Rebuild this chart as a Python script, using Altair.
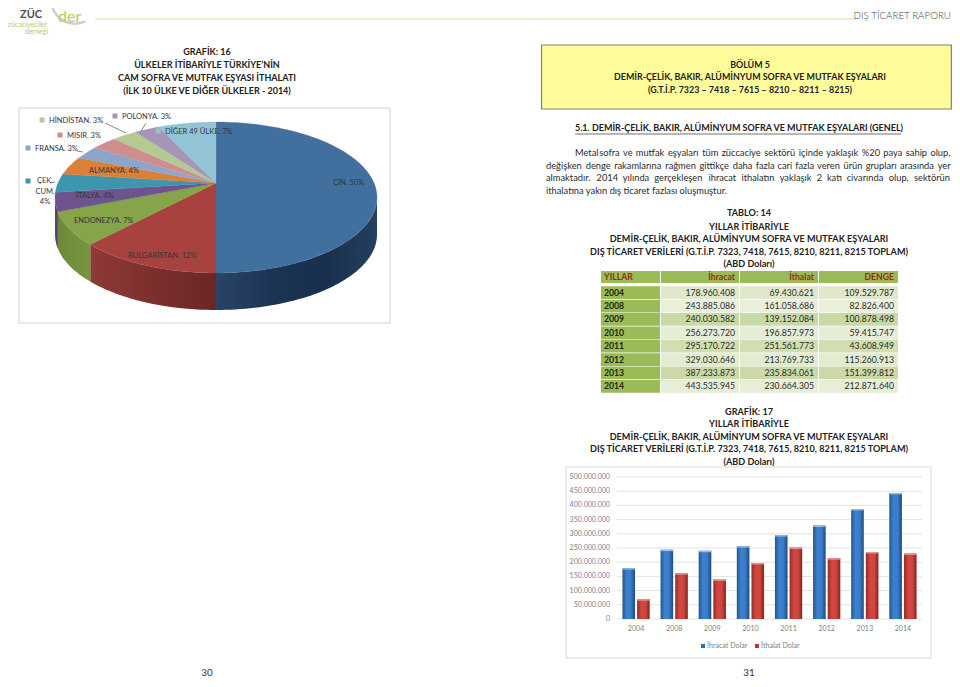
import math
import altair as alt
import pandas as pd

# ---------- data ----------
PIE_NAMES = ["ÇİN", "BULGARİSTAN", "ENDONEZYA", "İTALYA", "ÇEK CUM", "ALMANYA", "FRANSA", "MISIR", "HİNDİSTAN", "POLONYA", "DİĞER 49 ÜLKE"]
PIE_VALUES = [50, 12, 7, 4, 4, 4, 3, 3, 3, 3, 7]
PIE_COLORS = ["#41709f", "#a8423f", "#86a44a", "#6e548d", "#3d96ae", "#da8137", "#8ea5cb", "#ce8e8d", "#b5ca92", "#a596b8", "#93c4d6"]

YEARS = ["2004", "2008", "2009", "2010", "2011", "2012", "2013", "2014"]
IHRACAT = [178960408, 243885086, 240030582, 256273720, 295170722, 329030646, 387233873, 443535945]
ITHALAT = [69430621, 161058686, 139152084, 196857973, 251561773, 213769733, 235834061, 230664305]
DENGE = [109529787, 82826400, 100878498, 59415747, 43608949, 115260913, 151399812, 212871640]
TICKS = list(range(0, 500000001, 50000000))

TITLE_16 = ["GRAFİK: 16", "ÜLKELER İTİBARİYLE TÜRKİYE’NİN", "CAM SOFRA VE MUTFAK EŞYASI İTHALATI", "(İLK 10 ÜLKE VE DİĞER ÜLKELER - 2014)"]
BOX_TITLE = ["BÖLÜM 5", "DEMİR-ÇELİK, BAKIR, ALÜMİNYUM SOFRA VE MUTFAK EŞYALARI", "(G.T.İ.P. 7323 – 7418 – 7615 – 8210 – 8211 – 8215)"]
HEADING = "5.1. DEMİR-ÇELİK, BAKIR, ALÜMİNYUM SOFRA VE MUTFAK EŞYALARI (GENEL)"
PARAGRAPH = [
    "Metal sofra ve mutfak eşyaları tüm züccaciye sektörü içinde yaklaşık %20 paya sahip olup,",
    "değişken denge rakamlarına rağmen gittikçe daha fazla cari fazla veren ürün grupları arasında yer",
    "almaktadır. 2014 yılında gerçekleşen ihracat ithalatın yaklaşık 2 katı civarında olup, sektörün",
]
PARAGRAPH_LAST = "ithalatına yakın dış ticaret fazlası oluşmuştur."
TABLE_TITLE = ["TABLO: 14", "YILLAR İTİBARİYLE", "DEMİR-ÇELİK, BAKIR, ALÜMİNYUM SOFRA VE MUTFAK EŞYALARI",
               "DIŞ TİCARET VERİLERİ (G.T.İ.P. 7323, 7418, 7615, 8210, 8211, 8215 TOPLAM)", "(ABD Doları)"]
GRAPH_TITLE = ["GRAFİK: 17", "YILLAR İTİBARİYLE", "DEMİR-ÇELİK, BAKIR, ALÜMİNYUM SOFRA VE MUTFAK EŞYALARI",
               "DIŞ TİCARET VERİLERİ (G.T.İ.P. 7323, 7418, 7615, 8210, 8211, 8215 TOPLAM)", "(ABD Doları)"]

FONT = "Lato"
layers = []


def X(v):
    return alt.value(v - 8)


def text(s, x, y, size=9.5, align="left", color="#2b2b2b", weight="normal", font=FONT):
    layers.append(
        alt.Chart(alt.Data(values=[{"t": s}]))
        .mark_text(align=align, baseline="middle", fontSize=size, color=color, fontWeight=weight, font=font)
        .encode(text="t:N", x=X(x), y=X(y))
    )


def rect(x1, x2, y1, y2, fill, stroke=None, sw=1):
    kw = {"fill": fill}
    if stroke:
        kw.update(stroke=stroke, strokeWidth=sw)
    layers.append(alt.Chart(alt.Data(values=[{"a": 1}])).mark_rect(**kw).encode(x=X(x1), x2=X(x2), y=X(y1), y2=X(y2)))


def rule(x1, y1, x2, y2, color="#555555", sw=0.7):
    layers.append(alt.Chart(alt.Data(values=[{"a": 1}])).mark_rule(color=color, strokeWidth=sw).encode(x=X(x1), x2=X(x2), y=X(y1), y2=X(y2)))


CW = dict(a=.49, b=.56, c=.46, d=.56, e=.52, f=.32, g=.51, h=.55, i=.23, j=.23, k=.50, l=.23, m=.82, n=.55, o=.57,
          p=.55, q=.56, r=.36, s=.43, t=.35, u=.55, v=.50, w=.76, x=.49, y=.50, z=.45)
CW.update({"ı": .23, "ş": .43, "ü": .55, "ö": .57, "ç": .46, "ğ": .51, ",": .23, ".": .23, "%": .82})


def cw(c):
    if c in CW:
        return CW[c] * 1.04
    if c.isdigit():
        return 0.58 * 1.0
    return 0.65


def justified(line, x0, x1, y, size):
    words = line.split(" ")
    widths = [sum(cw(c) for c in w) * size for w in words]
    gap = (x1 - x0 - sum(widths)) / (len(words) - 1)
    x = x0
    for w, wd in zip(words, widths):
        text(w, x, y, size)
        x += wd + gap


def gradient(*cols):
    n = len(cols) - 1
    return alt.Gradient(gradient="linear", x1=0, x2=1, y1=0, y2=0,
                        stops=[alt.GradientStop(color=c, offset=i / n) for i, c in enumerate(cols)])


# ---------- header ----------
rule(95, 19, 856, 19, "#dcdf97", 1)
layers.append(alt.Chart(alt.Data(values=[{"a": 1}])).mark_arc(theta=2.7, theta2=4.9, radius=25, radius2=22.5, color="#cfcfcf").encode(x=X(75), y=X(0)))
text("ZÜC", 20, 15, 11, color="#505050", weight=700)
text("der", 58, 17, 16, color="#b9cf4c", weight=400)
text("zücaciyeciler", 8, 24.5, 7, color="#b7cb62")
text("derneği", 25, 31.5, 7, color="#b7cb62")
text("DIŞ TİCARET RAPORU", 951, 16, 9.8, align="right", color="#444444", weight=300)

# ---------- left title ----------
for s, y in zip(TITLE_16, [52, 65, 78, 91]):
    text(s, 207, y, 9, "center", "#222222", "bold")

# ---------- pie ----------
rect(19, 390, 108, 323, "#ffffff", "#d2d2d2", 1)

PIE_CX, PIE_CY, PIE_A, PIE_B, PIE_K, PIE_DEPTH = 216, 183, 158, 72.7, 0.192, 37


def rim(t):
    u, v = math.sin(t), math.cos(t)
    d = 1 + PIE_K * v
    return PIE_A * u / d, -PIE_B * v / d


bounds = [0]
for v in PIE_VALUES:
    bounds.append(bounds[-1] + v / sum(PIE_VALUES) * 2 * math.pi)

px = alt.Scale(domain=[-200, 200], range=[PIE_CX - 200 - 8, PIE_CX + 200 - 8])
py = alt.Scale(domain=[-100, 200], range=[PIE_CY - 100 - 8, PIE_CY + 200 - 8])


def pie_line(df, **mark):
    return alt.Chart(df).mark_line(filled=True, interpolate="linear-closed", **mark).encode(
        x=alt.X("x:Q", scale=px, axis=None), y=alt.Y("y:Q", scale=py, axis=None), order="i:Q")


WALL_FILLS = {
    "ÇİN": gradient("#2a4467", "#1c3555", "#182f4c", "#24405f"),
    "BULGARİSTAN": gradient("#8e3a37", "#7c2f2d", "#6b2725"),
    "ENDONEZYA": gradient("#6d8a3a", "#76963f"),
    "İTALYA": gradient("#574271", "#5d4778"),
}
t_right, t_left = math.acos(-PIE_K), 2 * math.pi - math.acos(-PIE_K)
for i, name in enumerate(PIE_NAMES):
    a, b = max(bounds[i], t_right), min(bounds[i + 1], t_left)
    if a >= b:
        continue
    n = max(4, int((b - a) * 40))
    arc = [rim(a + (b - a) * j / n) for j in range(n + 1)]
    poly = arc + [(x, y + PIE_DEPTH) for x, y in reversed(arc)]
    df = pd.DataFrame([{"x": x, "y": y, "i": j} for j, (x, y) in enumerate(poly)])
    layers.append(pie_line(df, fill=WALL_FILLS[name]))

rows = []
for i, name in enumerate(PIE_NAMES):
    a, b = bounds[i], bounds[i + 1]
    n = max(3, int((b - a) * 40))
    rows.append({"s": name, "x": 0, "y": 0, "i": 0})
    for j in range(n + 1):
        x, y = rim(a + (b - a) * j / n)
        rows.append({"s": name, "x": x, "y": y, "i": j + 1})
layers.append(
    pie_line(pd.DataFrame(rows), strokeWidth=0.3).encode(
        color=alt.Color("s:N", legend=None, scale=alt.Scale(domain=PIE_NAMES, range=PIE_COLORS)),
        stroke=alt.Stroke("s:N", legend=None, scale=alt.Scale(domain=PIE_NAMES, range=PIE_COLORS)),
    )
)

PIE_SIZE = 7.5
for s, x, y in [("POLONYA. 3%", 122, 117), ("DİĞER 49 ÜLKE. 7%", 165, 132), ("HİNDİSTAN. 3%", 49, 121),
                ("MISIR. 3%", 67, 136), ("FRANSA. 3%", 35, 149), ("ALMANYA. 4%", 89, 171),
                ("İTALYA. 4%", 76, 196), ("ENDONEZYA. 7%", 74, 221), ("BULGARİSTAN. 12%", 128, 256),
                ("ÇİN. 50%", 333, 183)]:
    text(s, x, y, PIE_SIZE, color="#33363a")
for s, y in [("ÇEK.", 181), ("CUM.", 192), ("4%", 202)]:
    text(s, 45, y, PIE_SIZE, "center", "#33363a")
for name, x, y in [("POLONYA", 115, 116), ("DİĞER 49 ÜLKE", 158, 131), ("HİNDİSTAN", 42, 120), ("MISIR", 60, 135),
                   ("FRANSA", 28, 148), ("ÇEK CUM", 28, 181)]:
    c = PIE_COLORS[PIE_NAMES.index(name)]
    rect(x - 2.5, x + 2.5, y - 2.5, y + 2.5, c)
rule(105, 123, 126, 133)
rule(146, 123, 141, 131)
rule(77, 151, 83, 152)
rule(50, 183, 55, 182)

# ---------- yellow box ----------
rect(541.5, 951.4, 45, 109, "#fdfb9a", "#85856a", 1.2)
for s, y in zip(BOX_TITLE, [65, 77, 90]):
    text(s, 750, y, 8.9, "center", "#222222", "bold")

# ---------- text ----------
text(HEADING, 575, 128, 9, color="#222222", weight="bold")
rule(575, 134, 901, 134, "#333333", 0.7)
BODY = 9.3
justified(PARAGRAPH[0], 575, 951, 153, BODY)
justified(PARAGRAPH[1], 546, 951, 166, BODY)
justified(PARAGRAPH[2], 546, 951, 178, BODY)
text(PARAGRAPH_LAST, 546, 191, BODY)

# ---------- table ----------
for s, y in zip(TABLE_TITLE, [213, 227, 239, 252, 264]):
    text(s, 749, y, 9.1, "center", "#222222", "bold")


def fmt(v):
    return f"{v:,}".replace(",", ".")


COLS = [(601, 660), (661, 739), (740, 818), (819, 898)]
for (a, b), h, al in zip(COLS, ["YILLAR", "İhracat", "İthalat", "DENGE"], ["left", "right", "right", "right"]):
    rect(a, b, 271, 283, "#9bbb59")
    text(h, a + 3 if al == "left" else b - 4, 277, 8.7, al, "#9a2c12", "bold")

table = pd.DataFrame({"year": YEARS, "ih": [fmt(v) for v in IHRACAT], "it": [fmt(v) for v in ITHALAT], "de": [fmt(v) for v in DENGE]})
ty = alt.Y("year:O", axis=None, sort=YEARS, scale=alt.Scale(domain=YEARS, range=[286 - 8, 393 - 8], paddingInner=0.05, paddingOuter=0.02))
layers.append(alt.Chart(table).mark_rect(fill="#9bbb59").encode(y=ty, x=X(601), x2=X(660)))
for a, b in COLS[1:]:
    layers.append(
        alt.Chart(table).mark_rect().encode(
            y=ty, x=X(a), x2=X(b),
            color=alt.Color("year:O", legend=None, scale=alt.Scale(domain=YEARS, range=["#dfe8ca", "#e9efdb", "#c9d9a6", "#e6edd6", "#d0deb0", "#e3ebd2", "#cad9a8", "#e6eed7"])),
        )
    )
layers.append(alt.Chart(table).mark_text(align="left", baseline="middle", fontSize=8.7, fontWeight="bold", color="#23270f", font=FONT).encode(y=ty, x=X(604), text="year:N"))
for col, (a, b) in zip(["ih", "it", "de"], COLS[1:]):
    layers.append(alt.Chart(table).mark_text(align="right", baseline="middle", fontSize=8.7, color="#2b2b2b", font=FONT).encode(y=ty, x=X(b - 4), text=f"{col}:N"))

# ---------- bar chart ----------
for s, y in zip(GRAPH_TITLE, [412, 424, 437, 449, 462]):
    text(s, 749, y, 9.1, "center", "#222222", "bold")
rect(566, 931, 467, 658, "#ffffff", "#e6e6e6", 1.5)

bar_y = alt.Scale(domain=[0, 500000000], range=[619 - 8, 477 - 8])
ticks = pd.DataFrame({"v": TICKS, "l": [fmt(v) for v in TICKS]})
layers.append(alt.Chart(ticks).mark_rule(color="#e2e2e2", strokeWidth=1).encode(y=alt.Y("v:Q", scale=bar_y, axis=None), x=X(617), x2=X(922)))
layers.append(alt.Chart(ticks).mark_text(align="right", baseline="middle", fontSize=7.1, color="#7f7f7f", font=FONT).encode(y=alt.Y("v:Q", scale=bar_y, axis=None), x=X(610), text="l:N"))

bars = pd.DataFrame({"year": YEARS * 2, "s": ["İhracat Dolar"] * 8 + ["İthalat Dolar"] * 8, "v": IHRACAT + ITHALAT})
bars["cap"] = bars["v"] - 5000000
bar_x = alt.X("year:O", axis=None, sort=YEARS, scale=alt.Scale(domain=YEARS, range=[617 - 8, 922 - 8], paddingInner=0.285, paddingOuter=0.1425))
bar_off = alt.XOffset("s:N", scale=alt.Scale(domain=["İhracat Dolar", "İthalat Dolar"], paddingInner=0.14))
for name, fill, cap in [("İhracat Dolar", gradient("#24568f", "#3c80cf", "#3a7cc8", "#1f4a7e"), "#93bce6"),
                        ("İthalat Dolar", gradient("#932b28", "#d24742", "#cf4540", "#86231f"), "#e89491")]:
    base = alt.Chart(bars).transform_filter(alt.datum.s == name)
    layers.append(base.mark_bar(fill=fill).encode(x=bar_x, xOffset=bar_off, y=alt.Y("v:Q", scale=bar_y, axis=None)))
    layers.append(base.mark_bar(fill=cap).encode(x=bar_x, xOffset=bar_off, y=alt.Y("v:Q", scale=bar_y, axis=None), y2="cap:Q"))

layers.append(alt.Chart(pd.DataFrame({"year": YEARS})).mark_text(baseline="middle", fontSize=7.1, color="#7f7f7f", font=FONT).encode(
    x=alt.X("year:O", axis=None, sort=YEARS, scale=alt.Scale(domain=YEARS, range=[617 - 8, 922 - 8])), y=X(629), text="year:N"))
rect(701, 705, 644, 648, "#2f6cb4")
text("İhracat Dolar", 707, 646, 7.1, color="#7f7f7f")
rect(755, 759, 644, 648, "#b93632")
text("İthalat Dolar", 761, 646, 7.1, color="#7f7f7f")

# ---------- page numbers ----------
text("30", 207, 673, 9.8, "center", "#333333")
text("31", 749, 673, 9.8, "center", "#333333")

chart = (
    alt.layer(*layers)
    .resolve_scale(x="independent", y="independent", color="independent", stroke="independent")
    .properties(width=944, height=671, padding=0, background="#ffffff", autosize=alt.AutoSizeParams(type="none"))
    .configure_view(stroke=None)
)
chart.save("out.html", embed_options={"renderer": "svg", "actions": False})
